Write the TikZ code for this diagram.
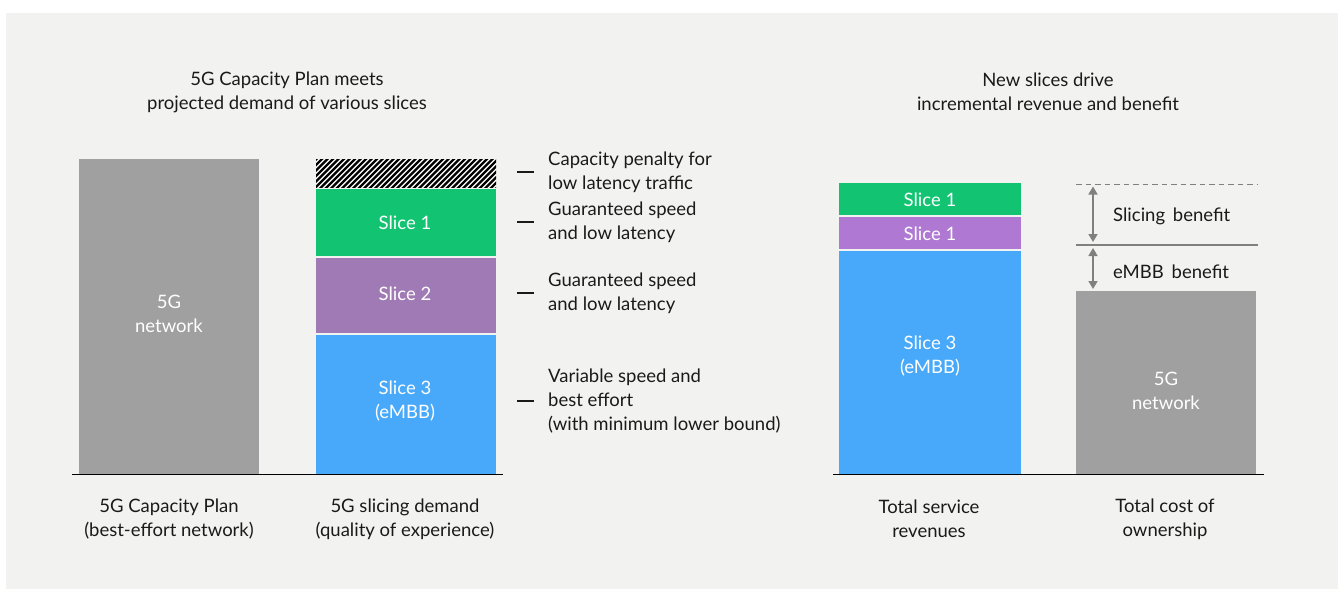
\documentclass[tikz,border=0pt]{standalone}
\usepackage{fontspec}
\setmainfont{Lato}
\usetikzlibrary{arrows.meta}
\definecolor{bg}{HTML}{F2F2F1}
\definecolor{txt}{HTML}{1A1A1A}
\definecolor{bargray}{HTML}{A0A0A0}
\definecolor{sgreen}{HTML}{12C472}
\definecolor{spurpleA}{HTML}{A07AB4}
\definecolor{spurpleB}{HTML}{AF78D2}
\definecolor{sblue}{HTML}{48A9FA}
\definecolor{arrgray}{HTML}{808080}
\tikzset{
  lbl/.style={font=\fontsize{18.5}{24}\selectfont, text=txt, align=center, inner sep=0pt},
  leg/.style={font=\fontsize{18.5}{24}\selectfont, text=txt, align=left, anchor=west, inner sep=0pt},
  inbar/.style={font=\fontsize{18.5}{24}\selectfont, text=white, align=center, inner sep=0pt},
  barbox/.style={inner sep=0pt, outer sep=0pt, minimum width=180, anchor=north west, draw=none},
  legdash/.style={draw=txt, line width=1.1pt},
  baseln/.style={draw=black, line width=1.6pt},
  benefit/.style={draw=arrgray, line width=1.6pt, {Triangle[width=9pt,length=8pt]}-{Triangle[width=9pt,length=8pt]}},
  refline/.style={draw=arrgray, line width=1.5pt},
}
\begin{document}
\begin{tikzpicture}[x=1pt,y=-1pt]
\useasboundingbox (0,0) rectangle (1338,590);
\fill[bg] (6,13) rectangle (1338,589);

% titles
\node[lbl] (t1) at (287,92) {5G Capacity Plan meets\\projected demand of various slices};
\node[lbl] (t2) at (1048,92) {New slices drive\\incremental revenue and benefit};

% left panel bars
\node[barbox, fill=bargray, minimum height=315] (b1) at (79,159) {};
\node[inbar] (b1l) at (169,314) {5G\\network};

\node[barbox, fill=white, minimum height=28] (hatch) at (316,159) {};
\begin{scope}
\clip (316,159) rectangle (496,187);
\foreach \i in {-8,...,35} {
  \draw[black, line width=2.2pt] ({310+5.5*\i},193) -- ({310+5.5*\i+40},153);
}
\end{scope}
\node[barbox, fill=sgreen, minimum height=67] (s1) at (316,189) {};
\node[inbar] (s1l) at (405,223) {Slice 1};
\node[barbox, fill=spurpleA, minimum height=75] (s2) at (316,258) {};
\node[inbar] (s2l) at (405,294) {Slice 2};
\node[barbox, fill=sblue, minimum height=139] (s3) at (316,335) {};
\node[inbar] (s3l) at (405,401) {Slice 3\\(eMBB)};

\coordinate (bl1a) at (72,474.5);
\coordinate (bl1b) at (503,474.5);
\draw[baseln] (bl1a) -- (bl1b);

% legend
\coordinate (d1a) at (517,172); \coordinate (d1b) at (534,172);
\draw[legdash] (d1a) -- (d1b);
\node[leg] (l1) at (548,172) {Capacity penalty for\\low latency traffic};
\coordinate (d2a) at (517,222); \coordinate (d2b) at (534,222);
\draw[legdash] (d2a) -- (d2b);
\node[leg] (l2) at (548,222) {Guaranteed speed\\and low latency};
\coordinate (d3a) at (517,293); \coordinate (d3b) at (534,293);
\draw[legdash] (d3a) -- (d3b);
\node[leg] (l3) at (548,293) {Guaranteed speed\\and low latency};
\coordinate (d4a) at (517,401); \coordinate (d4b) at (534,401);
\draw[legdash] (d4a) -- (d4b);
\node[leg] (l4) at (548,401) {Variable speed and\\best effort\\(with minimum lower bound)};

% bottom labels left
\node[lbl] (c1) at (169,519) {5G Capacity Plan\\(best-effort network)};
\node[lbl] (c2) at (405,519) {5G slicing demand\\(quality of experience)};

% right panel bars
\node[barbox, fill=sgreen, minimum width=182, minimum height=32] (r1) at (839,183) {};
\node[inbar] (r1l) at (930,200) {Slice 1};
\node[barbox, fill=spurpleB, minimum width=182, minimum height=32] (r2) at (839,217) {};
\node[inbar] (r2l) at (930,234) {Slice 1};
\node[barbox, fill=sblue, minimum width=182, minimum height=223] (r3) at (839,251) {};
\node[inbar] (r3l) at (930,356) {Slice 3\\(eMBB)};

\node[barbox, fill=bargray, minimum height=183] (g2) at (1076,291) {};
\node[inbar] (g2l) at (1166,391) {5G\\network};

\coordinate (bl2a) at (833,474.5);
\coordinate (bl2b) at (1264,474.5);
\draw[baseln] (bl2a) -- (bl2b);

% benefit lines and arrows
\coordinate (dla) at (1076,184.5); \coordinate (dlb) at (1257,184.5);
\draw[refline, dash pattern=on 5.5pt off 4pt] (dla) -- (dlb);
\coordinate (sla) at (1076,245); \coordinate (slb) at (1258,245);
\draw[refline] (sla) -- (slb);

\coordinate (a1t) at (1093,186.5); \coordinate (a1b) at (1093,242);
\draw[benefit] (a1t) -- (a1b);
\coordinate (a2t) at (1093,248); \coordinate (a2b) at (1093,289);
\draw[benefit] (a2t) -- (a2b);
\node[leg] (sb) at (1113,216) {Slicing\ \,benefit};
\node[leg] (eb) at (1113,272) {eMBB\ \,benefit};

% bottom labels right
\node[lbl] (c3) at (929,519) {Total service\\revenues};
\node[lbl] (c4) at (1165,519) {Total cost of\\ownership};
\end{tikzpicture}
\end{document}
